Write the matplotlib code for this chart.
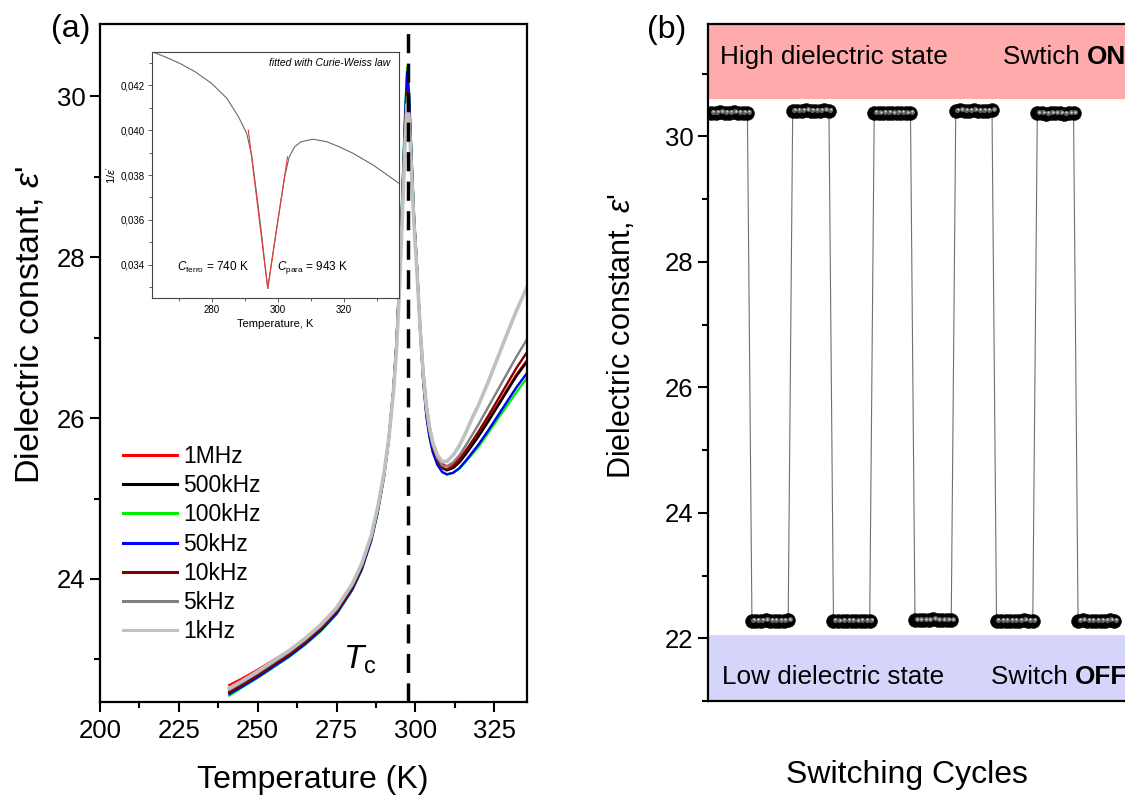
import matplotlib
matplotlib.use('Agg')
import matplotlib.pyplot as plt
from matplotlib.ticker import MultipleLocator, FuncFormatter
from matplotlib.transforms import offset_copy

plt.rcParams['font.family'] = ['Liberation Sans', 'DejaVu Sans']
plt.rcParams['mathtext.fontset'] = 'custom'
plt.rcParams['mathtext.rm'] = 'Liberation Sans'
plt.rcParams['mathtext.it'] = 'Liberation Sans:italic'
plt.rcParams['mathtext.bf'] = 'Liberation Sans:bold'

# ---------------- data: panel (a) ----------------
T = [241, 245, 250, 255, 260, 265, 270, 275, 280, 283, 286, 288, 290, 291.5, 293, 294, 295, 296,
     296.8, 297.4, 298, 298.8, 299.6, 300.5, 301.5, 302.5, 303.5, 304.5, 305.5, 307, 308.5, 310,
     312, 314, 316, 318, 320, 323, 326, 329, 332, 335.4]

eps_1MHz = [22.68, 22.76, 22.87, 22.99, 23.11, 23.25, 23.41, 23.62, 23.91, 24.16, 24.52, 24.86, 25.29,
            25.72, 26.33, 26.90, 27.74, 28.80, 29.66, 30.10, 29.90, 29.16, 28.46, 27.90, 27.18, 26.60,
            26.18, 25.90, 25.70, 25.52, 25.43, 25.40, 25.43, 25.50, 25.60, 25.70, 25.80, 25.98, 26.16,
            26.35, 26.54, 26.72]
eps_500kHz = [22.60, 22.69, 22.81, 22.94, 23.07, 23.22, 23.39, 23.60, 23.90, 24.15, 24.51, 24.85, 25.28,
              25.72, 26.34, 26.92, 27.78, 28.86, 29.74, 30.20, 29.95, 29.18, 28.46, 27.88, 27.12, 26.50,
              26.08, 25.82, 25.64, 25.47, 25.38, 25.35, 25.38, 25.45, 25.55, 25.66, 25.77, 25.95, 26.14,
              26.33, 26.52, 26.70]
eps_100kHz = [22.55, 22.65, 22.77, 22.90, 23.03, 23.18, 23.35, 23.56, 23.86, 24.11, 24.47, 24.81, 25.25,
              25.70, 26.34, 26.94, 27.83, 28.95, 29.86, 30.36, 30.06, 29.25, 28.50, 27.90, 27.12, 26.46,
              26.03, 25.76, 25.58, 25.42, 25.33, 25.30, 25.32, 25.37, 25.46, 25.55, 25.64, 25.81, 25.98,
              26.15, 26.32, 26.50]
eps_50kHz = [22.57, 22.66, 22.78, 22.91, 23.04, 23.19, 23.36, 23.57, 23.87, 24.12, 24.48, 24.82, 25.26,
             25.70, 26.33, 26.92, 27.80, 28.90, 29.80, 30.30, 30.02, 29.22, 28.48, 27.88, 27.10, 26.45,
             26.02, 25.76, 25.58, 25.42, 25.33, 25.30, 25.32, 25.38, 25.47, 25.57, 25.67, 25.84, 26.02,
             26.20, 26.38, 26.56]
eps_10kHz = [22.59, 22.68, 22.80, 22.93, 23.06, 23.21, 23.38, 23.59, 23.89, 24.14, 24.50, 24.84, 25.28,
             25.72, 26.34, 26.92, 27.76, 28.84, 29.68, 30.07, 29.88, 29.14, 28.44, 27.86, 27.10, 26.48,
             26.07, 25.82, 25.64, 25.47, 25.38, 25.36, 25.40, 25.48, 25.59, 25.71, 25.83, 26.02, 26.22,
             26.42, 26.62, 26.82]
eps_5kHz = [22.62, 22.71, 22.83, 22.96, 23.09, 23.24, 23.41, 23.62, 23.92, 24.17, 24.52, 24.86, 25.29,
            25.72, 26.32, 26.88, 27.70, 28.74, 29.58, 30.00, 29.82, 29.10, 28.42, 27.86, 27.12, 26.52,
            26.10, 25.84, 25.66, 25.50, 25.41, 25.40, 25.45, 25.54, 25.66, 25.79, 25.92, 26.13, 26.34,
            26.55, 26.76, 26.98]
eps_1kHz = [22.64, 22.73, 22.85, 22.98, 23.11, 23.26, 23.43, 23.64, 23.94, 24.19, 24.54, 24.88, 25.30,
            25.72, 26.30, 26.84, 27.64, 28.66, 29.48, 29.90, 29.74, 29.04, 28.38, 27.84, 27.12, 26.54,
            26.14, 25.88, 25.70, 25.54, 25.46, 25.46, 25.54, 25.66, 25.82, 26.00, 26.16, 26.44, 26.74,
            27.04, 27.33, 27.63]

freq_labels = ['1MHz', '500kHz', '100kHz', '50kHz', '10kHz', '5kHz', '1kHz']
freq_colors = ['#ff0000', '#000000', '#00ee00', '#0000ff', '#800000', '#808080', '#c0c0c0']
freq_series = [eps_1MHz, eps_500kHz, eps_100kHz, eps_50kHz, eps_10kHz, eps_5kHz, eps_1kHz]
Tc = 297.6

# inset: 1/eps' vs T, with Curie-Weiss fits
inset_T = [261.9, 266.0, 270.3, 275.0, 279.9, 284.5, 288.0, 290.5, 292.0, 293.5, 295.0, 296.1, 296.9,
           297.8, 299.0, 300.5, 302.0, 303.4, 305.0, 307.0, 310.7, 314.8, 318.8, 322.8, 328.9, 336.7]
inset_inv = [0.04348, 0.04324, 0.04296, 0.04258, 0.04207, 0.04141, 0.04060, 0.03985, 0.03890, 0.03720,
             0.03540, 0.03395, 0.03296, 0.03385, 0.03505, 0.03650, 0.03790, 0.03880, 0.03925, 0.03948,
             0.03959, 0.03948, 0.03924, 0.03896, 0.03844, 0.03763]
ferro_fit_T = [291.0, 296.9]
ferro_fit_y = [0.04000, 0.03296]
para_fit_T = [296.9, 302.9]
para_fit_y = [0.03296, 0.03881]

# ---------------- data: panel (b) ----------------
high_state = [
    [30.38, 30.38, 30.39, 30.38, 30.38, 30.39, 30.38, 30.38, 30.38],
    [30.41, 30.41, 30.41, 30.42, 30.41, 30.41, 30.41, 30.42, 30.41],
    [30.38, 30.37, 30.38, 30.38, 30.37, 30.38, 30.38, 30.37, 30.38],
    [30.41, 30.42, 30.41, 30.41, 30.42, 30.41, 30.41, 30.41, 30.42],
    [30.37, 30.37, 30.36, 30.37, 30.37, 30.37, 30.36, 30.37, 30.37],
]
low_state = [
    [22.28, 22.28, 22.28, 22.29, 22.28, 22.28, 22.28, 22.28, 22.29],
    [22.28, 22.27, 22.28, 22.28, 22.28, 22.27, 22.28, 22.28, 22.28],
    [22.29, 22.29, 22.29, 22.29, 22.30, 22.29, 22.29, 22.29, 22.29],
    [22.28, 22.28, 22.28, 22.28, 22.28, 22.28, 22.29, 22.28, 22.28],
    [22.28, 22.29, 22.28, 22.28, 22.28, 22.28, 22.28, 22.29, 22.28],
]
cycle_values = []
for hi, lo in zip(high_state, low_state):
    cycle_values += hi + lo
cycle_index = list(range(1, len(cycle_values) + 1))

# ---------------- figure ----------------
W, H = 1125, 797
fig = plt.figure(figsize=(W / 100, H / 100), dpi=100)


def px_rect(l, t, r, b):
    return [l / W, 1 - b / H, (r - l) / W, (b - t) / H]


# ----- panel (a) -----
axa = fig.add_axes(px_rect(100, 24, 527, 702))
for lab, col, y in zip(freq_labels, freq_colors, freq_series):
    lw = 2.6 if lab == '1kHz' else 1.7
    axa.plot(T, y, color=col, lw=lw, label=lab, solid_joinstyle='round')
axa.axvline(Tc, color='k', lw=2.5, ls=(0, (5.5, 3)), zorder=10)
axa.set_xlim(200, 335.4)
axa.set_ylim(22.47, 30.9)
axa.xaxis.set_major_locator(MultipleLocator(25))
axa.xaxis.set_minor_locator(MultipleLocator(12.5))
axa.yaxis.set_major_locator(MultipleLocator(2))
axa.yaxis.set_minor_locator(MultipleLocator(1))
axa.tick_params(which='both', direction='out', top=False, right=False, width=1.5, labelsize=18.5)
axa.tick_params(which='major', length=7.5)
axa.tick_params(which='minor', length=4)
axa.tick_params(axis='x', pad=5)
axa.tick_params(axis='y', pad=3)
for s in axa.spines.values():
    s.set_linewidth(1.6)

leg = axa.legend(loc='upper left', bbox_to_anchor=(123 / W, 1 - 445 / H), bbox_transform=fig.transFigure,
                 frameon=False, fontsize=16.5, handlelength=2.36, handletextpad=0.26,
                 labelspacing=0.27, borderpad=0, borderaxespad=0)
for h in leg.legend_handles:
    h.set_linewidth(2.2)

axa.text(282.5, 23.0, r'$T_{\mathrm{c}}$', fontsize=24, ha='center', va='center')

# inset
axi = fig.add_axes(px_rect(152, 52, 399, 298), zorder=5)
axi.set_facecolor('white')
axi.plot(inset_T, inset_inv, color='#6a6a6a', lw=0.8)
axi.plot(ferro_fit_T, ferro_fit_y, color='#e83a30', lw=0.8)
axi.plot(para_fit_T, para_fit_y, color='#e83a30', lw=0.8)
axi.set_xlim(261.8, 336.7)
axi.set_ylim(0.03253, 0.04347)
axi.xaxis.set_major_locator(MultipleLocator(20))
axi.xaxis.set_minor_locator(MultipleLocator(10))
axi.yaxis.set_major_locator(MultipleLocator(0.002))
axi.yaxis.set_minor_locator(MultipleLocator(0.001))
axi.yaxis.set_major_formatter(FuncFormatter(lambda v, p: ('%.3f' % v).replace('.', ',')))
axi.tick_params(which='both', direction='out', labelsize=7, width=0.6, color='#444444', pad=2)
axi.tick_params(which='major', length=3)
axi.tick_params(which='minor', length=2)
for s in axi.spines.values():
    s.set_linewidth(0.8)
    s.set_color('#444444')
axi.set_xlabel('Temperature, K', fontsize=8, labelpad=3)
axi.set_ylabel(r"$1/\varepsilon'$", fontsize=8, labelpad=2)
axi.text(0.964, 0.955, 'fitted with Curie-Weiss law', transform=axi.transAxes, fontsize=7.5,
         style='italic', ha='right', va='center')
axi.text(0.247, 0.126, r'$C_{\mathrm{ferro}}$ = 740 K', transform=axi.transAxes, fontsize=8.5,
         ha='center', va='center')
axi.text(0.652, 0.126, r'$C_{\mathrm{para}}$ = 943 K', transform=axi.transAxes, fontsize=8.5,
         ha='center', va='center')

fig.text(71 / W, 1 - 29 / H, '(a)', fontsize=23, ha='center', va='center')
fig.text(30 / W, 1 - 325 / H, "Dielectric constant, $\\varepsilon$'", fontsize=24.5, rotation=90,
         ha='center', va='center')
fig.text(313 / W, 1 - 780 / H, 'Temperature (K)', fontsize=23, ha='center', va='center')

# ----- panel (b) -----
axb = fig.add_axes(px_rect(708, 23.5, 1159.6, 701))
axb.axhspan(30.6, 32.0, color='#ffabab', lw=0, zorder=0)
axb.axhspan(20.0, 22.05, color='#d5d5fb', lw=0, zorder=0)
axb.plot(cycle_index, cycle_values, color='#707070', lw=0.8, zorder=2)
axb.scatter(cycle_index, cycle_values, s=100, color='black', edgecolors='#111111', linewidths=0.4, zorder=3)
hl1 = offset_copy(axb.transData, fig=fig, x=1.5, y=1.0, units='dots')
hl2 = offset_copy(axb.transData, fig=fig, x=1.8, y=1.4, units='dots')
axb.scatter(cycle_index, cycle_values, s=14, color='#5e5e5e', linewidths=0, zorder=4, transform=hl1)
axb.scatter(cycle_index, cycle_values, s=3, color='#c8c8c8', linewidths=0, zorder=5, transform=hl2)
axb.set_xlim(0.3, 100)
axb.set_ylim(21.0, 31.8)
axb.set_xticks([])
axb.yaxis.set_major_locator(MultipleLocator(2))
axb.yaxis.set_minor_locator(MultipleLocator(1))
axb.tick_params(which='both', direction='out', width=1.5, labelsize=18.5, pad=3)
axb.tick_params(which='major', length=7.5)
axb.tick_params(which='minor', length=4)
for s in axb.spines.values():
    s.set_linewidth(1.6)

axb.text(2.95, 31.27, 'High dielectric state', fontsize=18.8, ha='left', va='center')
t2 = axb.text(65.4, 31.27, 'Swtich ', fontsize=18.8, ha='left', va='center')
axb.annotate('ON', xy=(1, 0), xycoords=t2, fontsize=18.8, fontweight='bold', ha='left', va='bottom',
             annotation_clip=False)
axb.text(3.4, 21.38, 'Low dielectric state', fontsize=18.8, ha='left', va='center')
t4 = axb.text(62.8, 21.38, 'Switch ', fontsize=18.8, ha='left', va='center')
axb.annotate('OFF', xy=(1, 0), xycoords=t4, fontsize=18.8, fontweight='bold', ha='left', va='bottom',
             annotation_clip=False)

fig.text(667 / W, 1 - 30 / H, '(b)', fontsize=23, ha='center', va='center')
fig.text(622 / W, 1 - 336 / H, "Dielectric constant, $\\varepsilon$'", fontsize=22, rotation=90,
         ha='center', va='center')
fig.text(907 / W, 1 - 775 / H, 'Switching Cycles', fontsize=23, ha='center', va='center')

fig.savefig('out.png', dpi=100)
